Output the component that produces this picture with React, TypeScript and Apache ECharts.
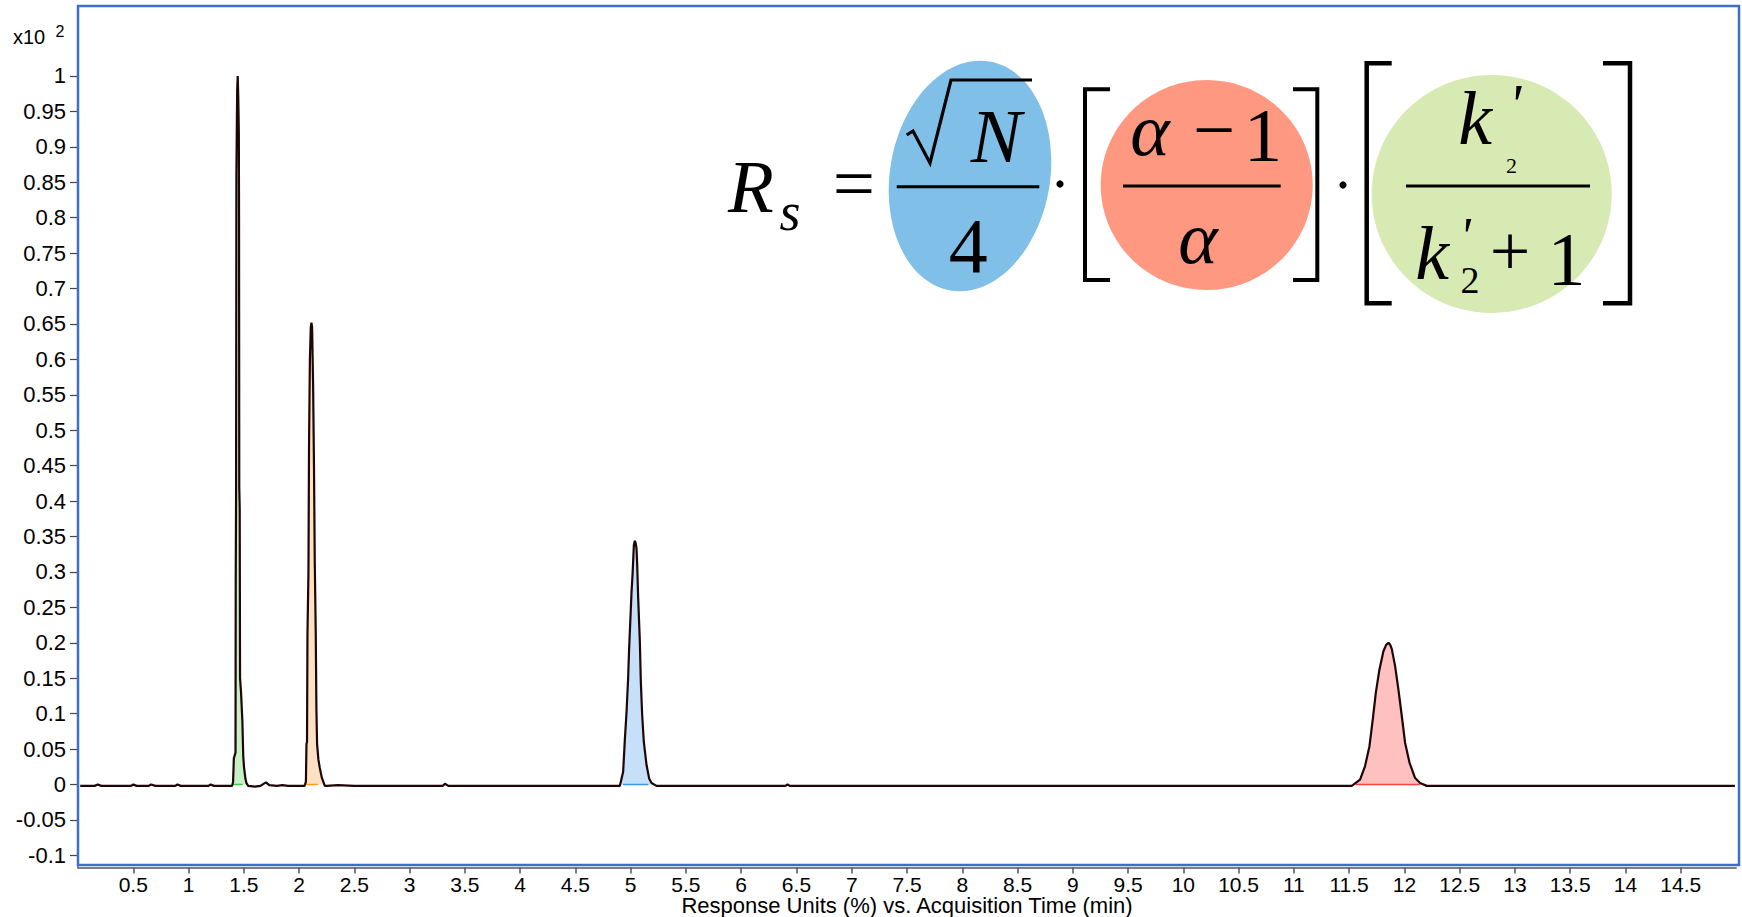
import React, { useEffect, useRef } from "react";
import * as echarts from "echarts";

// ---- data (time in min, response x10^2) ----
const yTickValues = [-0.1, -0.05, 0, 0.05, 0.1, 0.15, 0.2, 0.25, 0.3, 0.35, 0.4, 0.45, 0.5, 0.55, 0.6, 0.65, 0.7, 0.75, 0.8, 0.85, 0.9, 0.95, 1];

const baseline0 = [[0.02, -0.002], [0.15, -0.002], [0.18, 0.0], [0.21, -0.002], [0.48, -0.002], [0.5, 0.0], [0.53, -0.002], [0.64, -0.002], [0.66, 0.0], [0.7, -0.002], [0.88, -0.002], [0.9, 0.0], [0.93, -0.002], [1.18, -0.002], [1.2, 0.0], [1.23, -0.002], [1.385, -0.002]];
const peak1 = [[1.395, -0.002], [1.403, 0.004], [1.41, 0.037], [1.425, 0.045], [1.427, 0.29], [1.43, 0.4], [1.433, 0.86], [1.44, 0.98], [1.445, 1.0], [1.45, 0.97], [1.455, 0.92], [1.457, 0.8], [1.459, 0.42], [1.463, 0.39], [1.466, 0.15], [1.475, 0.13], [1.487, 0.09], [1.495, 0.04], [1.502, 0.024], [1.515, 0.008], [1.524, 0.002], [1.54, -0.002]];
const baseline1 = [[1.6, -0.003], [1.65, -0.002], [1.7, 0.003], [1.73, -0.001], [1.8, -0.002], [1.85, -0.001], [1.9, -0.002], [2.04, -0.002]];
const peak2 = [[2.05, -0.002], [2.062, 0.004], [2.067, 0.057], [2.072, 0.06], [2.076, 0.213], [2.085, 0.3], [2.09, 0.476], [2.098, 0.6], [2.106, 0.645], [2.112, 0.652], [2.118, 0.645], [2.127, 0.564], [2.135, 0.45], [2.142, 0.314], [2.151, 0.213], [2.157, 0.105], [2.163, 0.057], [2.175, 0.035], [2.187, 0.024], [2.205, 0.01], [2.233, -0.002]];
const baseline2 = [[2.25, -0.002], [2.35, -0.001], [2.5, -0.002], [2.8, -0.002], [3.3, -0.002], [3.32, 0.001], [3.35, -0.002], [4.2, -0.002], [4.88, -0.002]];
const peak3 = [[4.902, -0.002], [4.932, 0.018], [4.948, 0.065], [4.963, 0.103], [4.977, 0.15], [4.986, 0.192], [4.999, 0.239], [5.008, 0.272], [5.017, 0.296], [5.029, 0.338], [5.038, 0.344], [5.046, 0.34], [5.053, 0.333], [5.059, 0.31], [5.068, 0.263], [5.083, 0.202], [5.092, 0.145], [5.104, 0.098], [5.119, 0.06], [5.144, 0.027], [5.168, 0.008], [5.189, 0.002], [5.234, -0.002]];
const baseline3 = [[5.3, -0.002], [6.4, -0.002], [6.42, 0.0], [6.44, -0.002], [11.5, -0.002]];
const peak4 = [[11.524, -0.002], [11.599, 0.007], [11.644, 0.026], [11.684, 0.054], [11.714, 0.092], [11.741, 0.129], [11.774, 0.162], [11.81, 0.188], [11.835, 0.197], [11.856, 0.2], [11.872, 0.197], [11.886, 0.191], [11.916, 0.167], [11.946, 0.134], [11.976, 0.097], [12.006, 0.059], [12.046, 0.031], [12.097, 0.009], [12.142, 0.002], [12.202, -0.002]];
const baseline4 = [[12.25, -0.002], [14.99, -0.002]];

const fillBase1 = [[1.405, 0], [1.49, 0]];
const fillBase2 = [[2.065, 0], [2.17, 0]];
const fillBase3 = [[4.93, 0], [5.16, 0]];
const fillBase4 = [[11.56, 0], [12.14, 0]];

const peakFills = ["#c6f0c6", "#fee0c2", "#c6e0fa", "#ffc0c0"];
const peakBaseColors = ["#3fc83f", "#ff9a1a", "#3c96ec", "#ff4040"];

const SANS = "'Liberation Sans', Arial, Helvetica, sans-serif";
const SERIF = "'Liberation Serif', 'Times New Roman', serif";

function txt(text: string, x: number, y: number, fs: number, italic = true, family = SERIF) {
  return {
    type: "text",
    x,
    y,
    z: 20,
    silent: true,
    style: {
      text,
      fontSize: fs,
      fontFamily: family,
      fontStyle: italic ? "italic" : "normal",
      fill: "#000",
      align: "center",
      verticalAlign: "middle",
      textAlign: "center",
      textVerticalAlign: "middle",
    },
  };
}

function poly(points: number[][], lw: number) {
  return {
    type: "polyline",
    z: 20,
    silent: true,
    shape: { points },
    style: { stroke: "#000", lineWidth: lw, fill: "none" },
  };
}

function bar(x1: number, x2: number, y: number, lw = 3) {
  return {
    type: "line",
    z: 20,
    silent: true,
    shape: { x1, y1: y, x2, y2: y },
    style: { stroke: "#000", lineWidth: lw },
  };
}

export default function App() {
  const ref = useRef<HTMLDivElement>(null);
  useEffect(() => {
    if (!ref.current) return;
    const chart = echarts.init(ref.current, null, { renderer: "svg" });
    const trace = [...baseline0, ...peak1, ...baseline1, ...peak2, ...baseline2, ...peak3, ...baseline3, ...peak4, ...baseline4];
    const peaks = [peak1, peak2, peak3, peak4];
    const bases = [fillBase1, fillBase2, fillBase3, fillBase4];

    const fmt = (v: number) => String(Number(v.toFixed(2)));

    const series: any[] = [];
    peaks.forEach((p, i) => {
      series.push({
        type: "line",
        data: p,
        symbol: "none",
        lineStyle: { width: 0, opacity: 0 },
        areaStyle: { color: peakFills[i], opacity: 1 },
        z: 1,
        silent: true,
      });
      series.push({
        type: "line",
        data: bases[i],
        symbol: "none",
        lineStyle: { width: 1.5, color: peakBaseColors[i] },
        z: 2,
        silent: true,
      });
    });
    series.push({
      type: "line",
      data: trace,
      symbol: "none",
      lineStyle: { width: 2.2, color: "#1e0606" },
      z: 3,
      silent: true,
    });

    const graphic: any[] = [
      {
        type: "rect",
        z: 30,
        silent: true,
        shape: { x: 78, y: 6, width: 1661, height: 859 },
        style: { fill: "none", stroke: "#3d6fca", lineWidth: 2.5 },
      },
      // x10^2 label
      txt("x10", 29, 37, 20, false, SANS),
      txt("2", 60, 31, 16, false, SANS),
      // ellipses
      { type: "ellipse", z: 10, silent: true, x: 970, y: 176, rotation: -0.17, shape: { cx: 0, cy: 0, rx: 80, ry: 116 }, style: { fill: "#80c0e8" } },
      { type: "ellipse", z: 10, silent: true, x: 1206.7, y: 185, shape: { cx: 0, cy: 0, rx: 106, ry: 105 }, style: { fill: "#fe9880" } },
      { type: "ellipse", z: 10, silent: true, x: 1491.7, y: 194, shape: { cx: 0, cy: 0, rx: 120, ry: 119 }, style: { fill: "#d8eab4" } },
      // R_s =
      txt("R", 751, 186.4, 75),
      txt("s", 790, 211.5, 54),
      txt("=", 854, 182, 75, false),
      // sqrt(N)/4
      poly([[906.7, 135], [913, 131], [930, 163], [951, 80], [1032, 80]], 3.2),
      txt("N", 996, 136.4, 76),
      bar(896.7, 1039.3, 186.7),
      txt("4", 968.3, 245.4, 78, false),
      { type: "circle", z: 20, silent: true, shape: { cx: 1060, cy: 184, r: 3.6 }, style: { fill: "#000" } },
      // [ (a-1)/a ]
      poly([[1110, 89.3], [1085, 89.3], [1085, 280], [1110, 280]], 4),
      poly([[1293, 89.3], [1317.3, 89.3], [1317.3, 280], [1293, 280]], 4),
      txt("α", 1150, 129.7, 75),
      txt("−", 1214, 129.4, 75, false),
      txt("1", 1263, 135, 77, false),
      bar(1123, 1280.7, 186),
      txt("α", 1198, 237.7, 75),
      { type: "circle", z: 20, silent: true, shape: { cx: 1343, cy: 185, r: 3.6 }, style: { fill: "#000" } },
      // [ k'2/(k'2+1) ]
      poly([[1391.7, 63.3], [1366.7, 63.3], [1366.7, 303.3], [1391.7, 303.3]], 4.5),
      poly([[1603, 63.3], [1630, 63.3], [1630, 303.3], [1603, 303.3]], 4.5),
      txt("k", 1475, 118, 76),
      txt("'", 1515, 104.7, 58),
      txt("2", 1511.5, 165.6, 22, false),
      bar(1406, 1590, 186),
      txt("k", 1432, 253, 76),
      txt("'", 1465, 236, 52),
      txt("2", 1470, 280.2, 38, false),
      txt("+", 1510, 251, 72, false),
      txt("1", 1566.5, 259, 76, false),
    ];

    chart.setOption({
      animation: false,
      backgroundColor: "#fff",
      grid: { left: 78, right: 6, top: 48, bottom: 49.5, containLabel: false, outerBoundsMode: "none" },
      xAxis: {
        type: "value",
        min: 0,
        max: 15,
        interval: 0.5,
        name: "Response Units (%) vs. Acquisition Time (min)",
        nameLocation: "middle",
        nameGap: 27,
        nameMoveOverlap: false,
        nameTextStyle: { fontSize: 22, color: "#000", fontFamily: SANS },
        axisLine: { show: true, onZero: false, lineStyle: { color: "#808080", width: 2 } },
        axisTick: { show: true, length: 6, lineStyle: { color: "#555", width: 1.5 } },
        axisLabel: {
          showMinLabel: false,
          showMaxLabel: false,
          fontSize: 21,
          color: "#000",
          fontFamily: SANS,
          margin: 6,
          formatter: (v: number) => fmt(v),
        },
        splitLine: { show: false },
      },
      yAxis: {
        type: "value",
        min: -0.1172,
        max: 1.0395,
        offset: 2,
        axisLine: { show: true, lineStyle: { color: "#808080", width: 2 } },
        axisTick: { show: true, length: 8, customValues: yTickValues, lineStyle: { color: "#444", width: 1.2 } },
        axisLabel: {
          customValues: yTickValues,
          fontSize: 22,
          color: "#000",
          fontFamily: SANS,
          margin: 10,
          formatter: (v: number) => fmt(v),
        },
        splitLine: { show: false },
      },
      series,
      graphic,
    });
    return () => chart.dispose();
  }, []);
  return <div ref={ref} style={{ position: "fixed", left: 0, top: 0, width: 1742, height: 917 }} />;
}
